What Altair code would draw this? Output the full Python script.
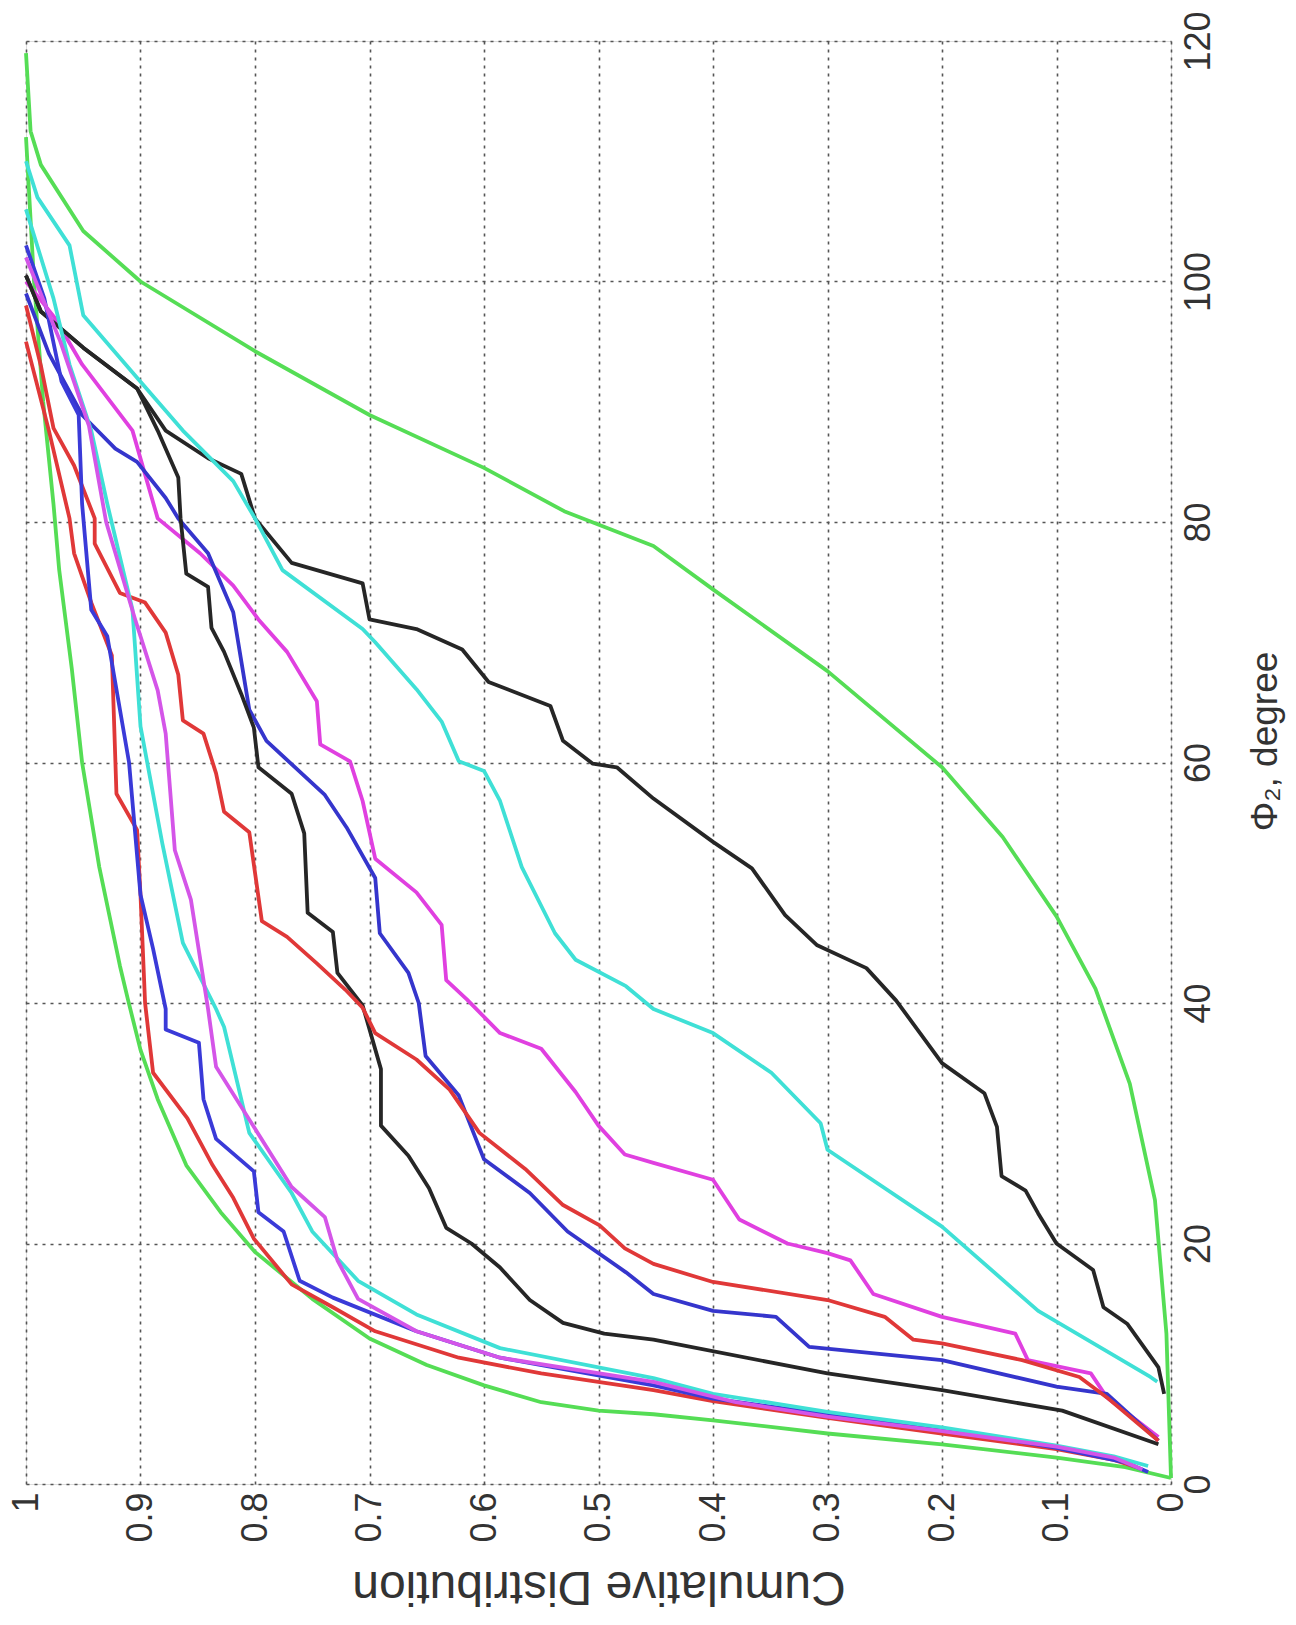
import altair as alt
import pandas as pd

# Axis ticks
cdf_ticks = [0, 0.1, 0.2, 0.3, 0.4, 0.5, 0.6, 0.7, 0.8, 0.9, 1]
deg_ticks = [0, 20, 40, 60, 80, 100, 120]

# Each curve: (cumulative distribution, angle in degrees), from top of range down
green_outer = [(1.0, 119), (0.996, 112.5), (0.987, 109.7), (0.95, 104.2), (0.9, 100), (0.8, 94.2),
               (0.7, 88.9), (0.6, 84.5), (0.53, 80.9), (0.452, 78.0), (0.4, 74.4), (0.3, 67.6),
               (0.2, 59.6), (0.147, 53.8), (0.1, 47.2), (0.066, 41.2), (0.036, 33.3),
               (0.014, 23.6), (0.004, 12.5), (0.0, 0.5)]
green_inner = [(1.0, 112), (0.993, 100), (0.985, 90), (0.976, 81.5), (0.971, 76.0), (0.96, 67.8),
               (0.951, 60), (0.936, 51.3), (0.918, 43.1), (0.911, 40.3), (0.9, 36.1), (0.885, 32),
               (0.86, 26.5), (0.83, 22.6), (0.8, 19.3), (0.75, 15.4), (0.7, 12.1), (0.65, 9.9),
               (0.6, 8.2), (0.55, 6.8), (0.5, 6.1), (0.452, 5.8), (0.4, 5.3), (0.3, 4.2),
               (0.2, 3.3), (0.1, 2.2), (0.04, 1.4), (0.0, 0.5)]
black_outer = [(1.0, 100.5), (0.987, 97.5), (0.95, 94.5), (0.903, 91.1), (0.878, 87.6), (0.841, 85.3),
               (0.812, 84.0), (0.8, 80.3), (0.768, 76.6), (0.706, 74.9), (0.7, 71.9), (0.659, 71.1),
               (0.619, 69.4), (0.596, 66.7), (0.542, 64.7), (0.531, 61.8), (0.505, 59.9),
               (0.484, 59.6), (0.452, 57.0), (0.4, 53.4), (0.366, 51.2), (0.337, 47.3),
               (0.309, 44.8), (0.266, 42.9), (0.24, 40.2), (0.2, 35.0), (0.163, 32.5),
               (0.152, 29.7), (0.148, 25.6), (0.127, 24.4), (0.116, 22.5), (0.1, 20.0),
               (0.068, 17.8), (0.059, 14.7), (0.038, 13.3), (0.011, 9.7), (0.006, 7.5)]
cyan_outer = [(1.0, 110), (0.99, 107), (0.962, 103), (0.95, 97.2), (0.903, 92), (0.863, 87.6),
              (0.819, 83.4), (0.8, 80.3), (0.776, 76.0), (0.706, 71.1), (0.695, 70.0),
              (0.659, 66.1), (0.637, 63.4), (0.622, 60.1), (0.6, 59.3), (0.586, 56.8),
              (0.567, 51.3), (0.538, 45.8), (0.52, 43.6), (0.476, 41.4), (0.452, 39.5),
              (0.4, 37.5), (0.349, 34.2), (0.306, 30.0), (0.3, 27.8), (0.2, 21.4),
              (0.116, 14.4), (0.018, 8.9), (0.012, 8.5)]
magenta_outer = [(1.0, 100), (0.975, 97), (0.951, 93.1), (0.907, 87.6), (0.885, 80.3), (0.848, 77.4),
                 (0.819, 74.7), (0.797, 71.9), (0.772, 69.2), (0.746, 65.1), (0.743, 61.5),
                 (0.717, 60.1), (0.706, 56.8), (0.695, 52.0), (0.659, 49.2), (0.637, 46.5),
                 (0.633, 41.9), (0.615, 40.3), (0.586, 37.5), (0.55, 36.2), (0.52, 32.6),
                 (0.5, 29.8), (0.477, 27.4), (0.452, 26.7), (0.4, 25.3), (0.377, 22.0),
                 (0.335, 20.0), (0.3, 19.2), (0.28, 18.6), (0.26, 15.8), (0.2, 13.9),
                 (0.136, 12.5), (0.125, 10.3), (0.07, 9.2), (0.056, 7.2), (0.011, 3.9)]
blue_outer = [(1.0, 99), (0.98, 94), (0.951, 88.9), (0.922, 86.1), (0.903, 85.0), (0.878, 82.0),
              (0.867, 80.3), (0.841, 77.4), (0.819, 72.5), (0.805, 64.4), (0.79, 61.8),
              (0.739, 57.3), (0.72, 54.6), (0.695, 50.4), (0.691, 45.8), (0.666, 42.5),
              (0.657, 40.0), (0.651, 35.6), (0.622, 32.3), (0.6, 27.0), (0.56, 24.2),
              (0.527, 21.0), (0.476, 17.6), (0.452, 15.8), (0.4, 14.4), (0.345, 13.9),
              (0.316, 11.4), (0.2, 10.3), (0.1, 8.1), (0.056, 7.5), (0.011, 3.6)]
black_inner = [(1.0, 100.5), (0.987, 97.5), (0.95, 94.5), (0.903, 91.1), (0.885, 87.6), (0.867, 83.7),
               (0.865, 80.3), (0.86, 75.7), (0.841, 74.6), (0.838, 71.2), (0.827, 69.2),
               (0.812, 65.7), (0.801, 62.9), (0.797, 59.6), (0.768, 57.4), (0.757, 54.1),
               (0.754, 47.5), (0.732, 45.9), (0.728, 42.5), (0.706, 39.8), (0.69, 34.5),
               (0.69, 29.8), (0.666, 27.3), (0.648, 24.6), (0.633, 21.3), (0.611, 20.0),
               (0.586, 18.0), (0.56, 15.3), (0.531, 13.4), (0.495, 12.5), (0.452, 12.0),
               (0.3, 9.2), (0.2, 7.8), (0.095, 6.1), (0.011, 3.3)]
red_outer = [(1.0, 98), (0.987, 93), (0.976, 87.8), (0.958, 84.7), (0.94, 80.3), (0.94, 78.2),
             (0.918, 74.1), (0.896, 73.3), (0.878, 70.8), (0.867, 67.3), (0.863, 63.5),
             (0.845, 62.4), (0.834, 59.1), (0.827, 55.9), (0.805, 54.2), (0.794, 46.8),
             (0.772, 45.5), (0.746, 43.3), (0.721, 41.1), (0.706, 39.6), (0.695, 37.5),
             (0.659, 35.3), (0.63, 32.8), (0.604, 29.2), (0.564, 26.2), (0.531, 23.2),
             (0.499, 21.5), (0.477, 19.6), (0.452, 18.3), (0.4, 16.8), (0.3, 15.3),
             (0.25, 13.9), (0.225, 12.0), (0.2, 11.7), (0.13, 10.3), (0.08, 8.9),
             (0.056, 7.2), (0.011, 3.6)]
red_inner = [(1.0, 95), (0.98, 87.6), (0.962, 80.3), (0.958, 77.4), (0.943, 73.3), (0.925, 68.9),
             (0.921, 57.4), (0.903, 54.4), (0.9, 49.0), (0.896, 40.0), (0.889, 34.2),
             (0.859, 30.4), (0.837, 26.5), (0.819, 23.8), (0.801, 20.4), (0.768, 16.6),
             (0.732, 14.7), (0.695, 12.7), (0.622, 10.5), (0.55, 9.2), (0.452, 7.8),
             (0.4, 6.9), (0.3, 5.5), (0.2, 4.2), (0.1, 2.9), (0.05, 2.0), (0.03, 1.4)]
blue_inner = [(1.0, 103), (0.984, 98.6), (0.969, 91.7), (0.954, 88.9), (0.951, 81.5), (0.943, 72.7),
              (0.929, 70.5), (0.91, 60.0), (0.9, 49.0), (0.889, 44.5), (0.878, 39.5),
              (0.878, 37.8), (0.849, 36.7), (0.845, 32.0), (0.834, 28.7), (0.801, 26.0),
              (0.797, 22.6), (0.775, 21.0), (0.761, 16.9), (0.732, 15.5), (0.659, 12.7),
              (0.586, 10.5), (0.452, 8.2), (0.4, 7.1), (0.3, 5.8), (0.2, 4.6), (0.1, 3.0),
              (0.04, 1.8), (0.02, 1.0)]
cyan_inner = [(1.0, 106), (0.976, 98.6), (0.962, 93.1), (0.943, 87.6), (0.929, 81.5), (0.907, 72.7),
              (0.9, 63.0), (0.881, 53.3), (0.863, 45.0), (0.834, 39.5), (0.827, 38.0),
              (0.805, 29.2), (0.768, 24.2), (0.75, 21.0), (0.71, 16.9), (0.659, 14.1),
              (0.586, 11.3), (0.452, 8.8), (0.4, 7.5), (0.3, 6.0), (0.2, 4.7), (0.1, 3.2),
              (0.05, 2.3), (0.02, 1.5)]
magenta_inner = [(1.0, 102), (0.97, 95), (0.945, 88), (0.93, 80), (0.905, 72), (0.885, 66),
                 (0.878, 62.4), (0.87, 52.7), (0.856, 48.6), (0.841, 39.5), (0.834, 34.7),
                 (0.768, 24.7), (0.739, 22.2), (0.728, 18.6), (0.71, 15.4), (0.659, 12.7),
                 (0.586, 10.5), (0.452, 8.5), (0.38, 6.8), (0.3, 5.6), (0.2, 4.4), (0.1, 3.1),
                 (0.05, 2.2), (0.025, 1.2)]

curves = {
    "green_outer": green_outer, "green_inner": green_inner,
    "black_outer": black_outer, "cyan_outer": cyan_outer,
    "magenta_outer": magenta_outer, "blue_outer": blue_outer,
    "black_inner": black_inner, "red_outer": red_outer,
    "red_inner": red_inner, "blue_inner": blue_inner,
    "cyan_inner": cyan_inner, "magenta_inner": magenta_inner,
}
curve_colors = {
    "green_outer": "#55dd55", "green_inner": "#55dd55",
    "black_outer": "#262626", "black_inner": "#262626",
    "cyan_outer": "#3fe0d6", "cyan_inner": "#3fe0d6",
    "magenta_outer": "#e040e0", "magenta_inner": "#d455e8",
    "blue_outer": "#3535cc", "blue_inner": "#3a3ad8",
    "red_outer": "#e03838", "red_inner": "#e03838",
}

rows = []
for name, pts in curves.items():
    for i, (c, d) in enumerate(pts):
        rows.append({"curve": name, "cdf": c, "deg": d, "idx": i})
df = pd.DataFrame(rows)

names = list(curves.keys())

PLOT_W, PLOT_H = 1145, 1443
FONT = "Liberation Sans"

chart = alt.Chart(df).mark_line(strokeWidth=3.8, strokeJoin="round").encode(
    x=alt.X(
        "cdf:Q",
        scale=alt.Scale(domain=[0, 1], reverse=True, nice=False, zero=False),
        axis=alt.Axis(
            orient="bottom", values=cdf_ticks, title="Cumulative Distribution",
            labelExpr="datum.value == 1 ? '1' : datum.value == 0 ? '0' : format(datum.value, '.1f')",
            labelAngle=270, labelAlign="right", labelBaseline="middle",
            labelPadding=8, labelFontSize=36, labelColor="#333333", labelFont=FONT,
            labelOverlap=False, labelFlush=False, ticks=False, domain=False,
            grid=True, gridDash=[3, 5], gridColor="#555555", gridWidth=1.6, gridOpacity=1,
            titleAngle=180, titleFontSize=48, titleFont=FONT, titleFontWeight="normal",
            titleColor="#333333", titleX=PLOT_W / 2, titleY=101,
            titleAlign="center", titleBaseline="middle",
        ),
    ),
    y=alt.Y(
        "deg:Q",
        scale=alt.Scale(domain=[0, 120], nice=False, zero=False),
        axis=alt.Axis(
            orient="right", values=deg_ticks, title="Φ₂, degree", format="d",
            labelAngle=270, labelAlign="center", labelBaseline="top",
            labelPadding=10, labelFontSize=36, labelColor="#333333", labelFont=FONT,
            labelOverlap=False, labelFlush=False, ticks=False, domain=False,
            grid=True, gridDash=[3, 5], gridColor="#555555", gridWidth=1.6, gridOpacity=1,
            titleAngle=270, titleFontSize=37, titleFont=FONT, titleFontWeight="normal",
            titleColor="#333333", titleX=94, titleY=700,
            titleAlign="center", titleBaseline="middle",
        ),
    ),
    color=alt.Color("curve:N", scale=alt.Scale(domain=names,
                                               range=[curve_colors[n] for n in names]),
                    legend=None),
    detail="curve:N",
    order="idx:Q",
).properties(
    width=PLOT_W,
    height=PLOT_H,
    autosize=alt.AutoSizeParams(type="none"),
    padding={"left": 26, "top": 41, "right": 125, "bottom": 141},
).configure_view(
    stroke="#7a7a7a", strokeWidth=3
).configure(background="white")

chart.save("out.html", embed_options={"renderer": "svg", "actions": False})
